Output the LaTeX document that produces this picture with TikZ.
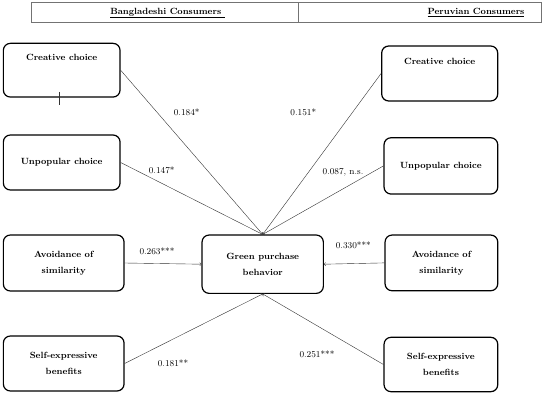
\documentclass[tikz,border=0pt]{standalone}
\usetikzlibrary{positioning}

\begin{document}
\begin{tikzpicture}
[
	x=1pt,y=-1pt,
	box/.style={draw,line width=1.2pt,rounded corners=7pt,align=center,inner sep=0pt,font=\fontsize{9}{16}\selectfont\bfseries},
	boxtext/.style={inner sep=0pt,font=\fontsize{9}{16}\selectfont\bfseries},
	coef/.style={inner sep=1pt,font=\fontsize{9}{11}\selectfont},
	arrow/.style={->,thin,black!80}
]

	% page size
	\useasboundingbox (0,0) rectangle (550,396);

	% heading table
	\draw[black!55,semithick] (31.7,2.7) rectangle (541.7,22.7);
	\draw[black!55,semithick] (298.3,2.7) -- (298.3,22.7);
	\node[boxtext] (bdhead) at (167.5,12.9) {\underline{Bangladeshi Consumers\ }};
	\node[boxtext] (pehead) at (476,12.9) {\underline{Peruvian Consumers}};

	% centre box
	\node[box,minimum width=121.3pt,minimum height=58.3pt] (green) at (262.7,264.2) {Green purchase\\behavior};

	% Bangladeshi boxes
	\node[box,minimum width=116.7pt,minimum height=53.7pt] (bdcreative) at (61.7,70.2) {};
	\node[boxtext,below=11.5pt of bdcreative.north] (bdcreativetext) {Creative choice};
	\node[box,minimum width=116.7pt,minimum height=55pt] (bdunpopular) at (61.7,162.5) {Unpopular choice};
	\node[box,minimum width=120.7pt,minimum height=56pt] (bdavoidance) at (63.7,263) {Avoidance of\\similarity};
	\node[box,minimum width=120.7pt,minimum height=55pt] (bdselfexpr) at (63.7,363.5) {Self-expressive\\benefits};
	\draw[black!80,thin] (59,92) -- (59,105);

	% Peruvian boxes
	\node[box,minimum width=116pt,minimum height=55pt] (pecreative) at (439.7,73.5) {};
	\node[boxtext,below=12.5pt of pecreative.north] (pecreativetext) {Creative choice};
	\node[box,minimum width=113.7pt,minimum height=56.3pt] (peunpopular) at (440.9,165.9) {Unpopular choice};
	\node[box,minimum width=112.7pt,minimum height=55.7pt] (peavoidance) at (441.4,262.9) {Avoidance of\\similarity};
	\node[box,minimum width=113.7pt,minimum height=54.4pt] (peselfexpr) at (440.9,364.5) {Self-expressive\\benefits};

	% paths
	\draw[arrow] (bdcreative.east) -- (green.north);
	\draw[arrow] (bdunpopular.east) -- (green.north);
	\draw[arrow] (bdavoidance.east) -- (green.west);
	\draw[arrow] (bdselfexpr.east) -- (green.south);
	%
	\draw[arrow] (pecreative.west) -- (green.north);
	\draw[arrow] (peunpopular.west) -- (green.north);
	\draw[arrow] (peavoidance.west) -- (green.east);
	\draw[arrow] (peselfexpr.west) -- (green.south);

	% coefficients
	\node[coef] (bdcreativecoef) at (186.7,112.3) {0.184*};
	\node[coef] (bdunpopularcoef) at (161.7,170.7) {0.147*};
	\node[coef] (bdavoidancecoef) at (157,251) {0.263***};
	\node[coef] (bdselfexprcoef) at (173,363.3) {0.181**};
	%
	\node[coef] (pecreativecoef) at (303.3,112.3) {0.151*};
	\node[coef] (peunpopularcoef) at (343,172) {0.087, n.s.};
	\node[coef] (peavoidancecoef) at (353.3,245) {0.330***};
	\node[coef] (peselfexprcoef) at (317,354) {0.251***};

\end{tikzpicture}
\end{document}
